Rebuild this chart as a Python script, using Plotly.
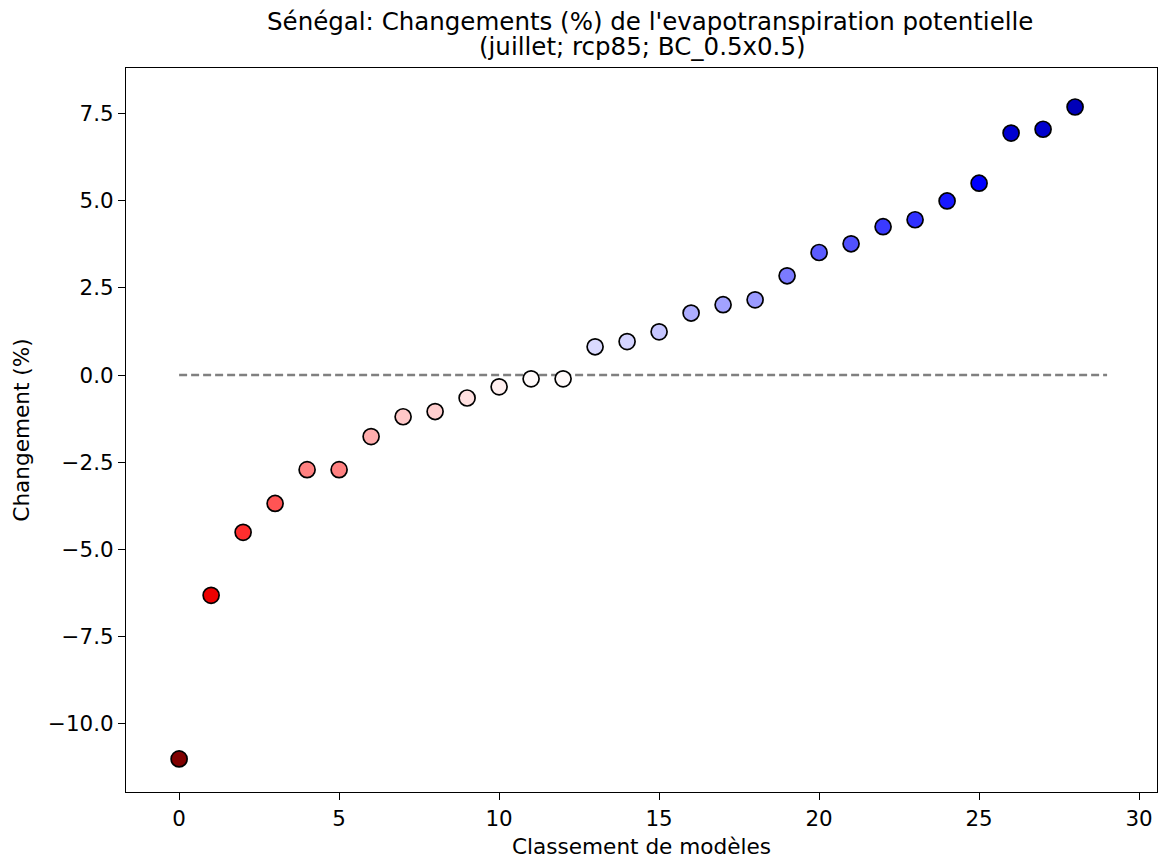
import plotly.graph_objects as go

ranks = list(range(29))
changes = [-11.03, -6.33, -4.52, -3.69, -2.72, -2.72, -1.77, -1.20, -1.05, -0.66, -0.34,
           -0.11, -0.11, 0.81, 0.96, 1.24, 1.78, 2.02, 2.16, 2.85, 3.52, 3.77, 4.26,
           4.46, 5.00, 5.51, 6.95, 7.06, 7.70]

title_line1 = "Sénégal: Changements (%) de l'evapotranspiration potentielle"
title_line2 = "(juillet; rcp85; BC_0.5x0.5)"
xlabel = "Classement de modèles"
ylabel = "Changement (%)"

vmax = max(abs(v) for v in changes)
seismic_r = [[0.0, "rgb(128,0,0)"], [0.25, "rgb(255,0,0)"], [0.5, "rgb(255,255,255)"],
             [0.75, "rgb(0,0,255)"], [1.0, "rgb(0,0,77)"]]

font = "DejaVu Sans"
W, H = 1159, 859
L, R, T, B = 126, 2, 68, 67
plot_h = H - T - B
fig = go.Figure()
fig.add_trace(go.Scatter(x=[0, len(changes)], y=[0, 0], mode="lines",
                         line=dict(color="gray", width=2.5, dash="8px,4px"),
                         hoverinfo="skip", showlegend=False))
fig.add_trace(go.Scatter(x=ranks, y=changes, mode="markers",
                         marker=dict(size=16, color=changes, colorscale=seismic_r,
                                     cmin=-vmax, cmax=vmax,
                                     line=dict(color="black", width=1.7)),
                         showlegend=False))

axis_common = dict(showline=True, linecolor="black", linewidth=1.3, mirror=True,
                   ticks="outside", ticklen=7, tickwidth=1.3, tickcolor="black",
                   showgrid=False, zeroline=False,
                   tickfont=dict(family=font, size=21.4, color="black"))
fig.update_xaxes(range=[-1.66, 30.56], tickvals=[0, 5, 10, 15, 20, 25, 30],
                 title=dict(text=xlabel, font=dict(family=font, size=21.6, color="black"), standoff=10),
                 **axis_common)
fig.update_yaxes(range=[-11.98, 8.82], tickvals=[-10, -7.5, -5, -2.5, 0, 2.5, 5, 7.5],
                 tickformat=".1f",
                 title=dict(text=ylabel, font=dict(family=font, size=21.6, color="black"), standoff=12),
                 **axis_common)


def paper_y(px):
    return 1 + (T - px) / plot_h


def paper_x(px):
    return (px - L) / (W - L - R)


fig.add_annotation(text=title_line1, xref="paper", yref="paper", x=paper_x(650), y=paper_y(21.5),
                   xanchor="center", yanchor="middle", showarrow=False,
                   font=dict(family=font, size=24.5, color="black"))
fig.add_annotation(text=title_line2, xref="paper", yref="paper", x=paper_x(642), y=paper_y(46.5),
                   xanchor="center", yanchor="middle", showarrow=False,
                   font=dict(family=font, size=24.5, color="black"))
fig.update_layout(width=W, height=H, plot_bgcolor="white", paper_bgcolor="white",
                  margin=dict(l=L, r=R, t=T, b=B), font=dict(family=font))
fig.write_html("out.html", config={"displayModeBar": False},
               post_script="document.body.style.margin='0px';document.body.style.overflow='hidden';")
